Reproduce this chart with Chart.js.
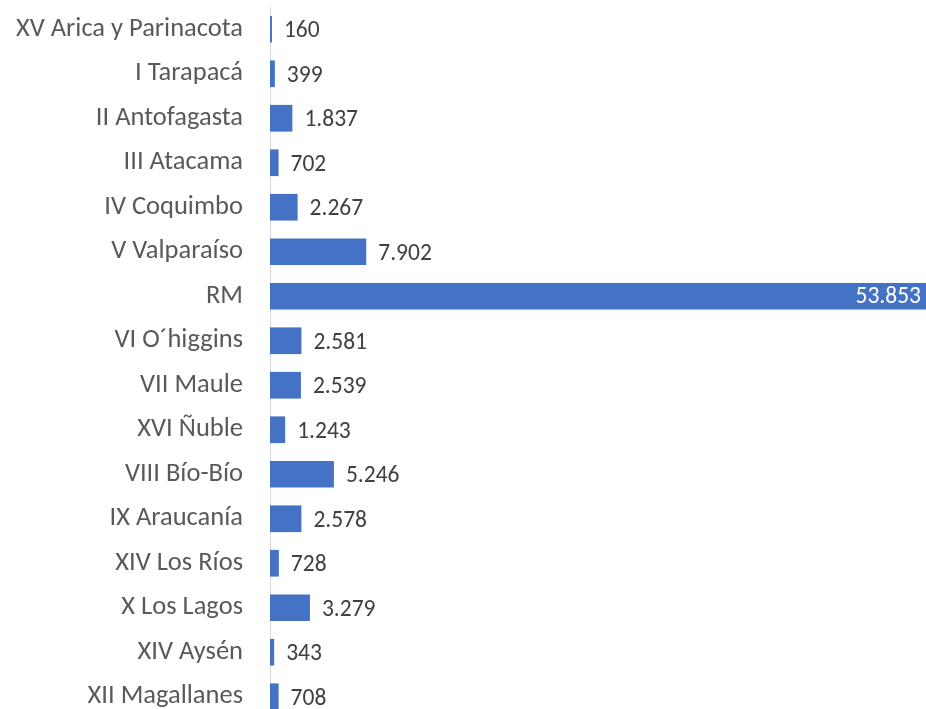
<!DOCTYPE html>
<html>
<head>
<meta charset="utf-8">
<script src="https://cdn.jsdelivr.net/npm/chart.js@4"></script>
<style>
  html, body { margin: 0; padding: 0; background: #fff; overflow: hidden; }
  canvas { display: block; }
</style>
</head>
<body>
<canvas id="regiones" width="926" height="720"></canvas>
<script>
var regiones = [
    "XV Arica y Parinacota", "I Tarapacá", "II Antofagasta", "III Atacama",
    "IV Coquimbo", "V Valparaíso", "RM", "VI O´higgins", "VII Maule",
    "XVI Ñuble", "VIII Bío-Bío", "IX Araucanía", "XIV Los Ríos",
    "X Los Lagos", "XIV Aysén", "XII Magallanes"
];
var valores = [160, 399, 1837, 702, 2267, 7902, 53853, 2581, 2539, 1243, 5246, 2578, 728, 3279, 343, 708];

var fuente = 'Calibri, Carlito, "Open Sans", sans-serif';

// numbers with a dot as thousands separator, as in the original
function formato(n) {
    return String(n).replace(/\B(?=(\d{3})+(?!\d))/g, ".");
}

var etiquetas = {
    id: 'etiquetas',
    afterDatasetsDraw: function(chart) {
        var ctx = chart.ctx;
        var meta = chart.getDatasetMeta(0);
        ctx.save();
        ctx.font = '23.5px ' + fuente;
        ctx.textBaseline = 'middle';
        meta.data.forEach(function(bar, i) {
            var txt = formato(valores[i]);
            var w = ctx.measureText(txt).width;
            if (bar.x + 12 + w > chart.chartArea.right) {
                // no room outside, put it inside the bar end
                ctx.fillStyle = '#ffffff';
                ctx.textAlign = 'right';
                ctx.fillText(txt, bar.x - 5, bar.y + 1);
            } else {
                ctx.fillStyle = '#404040';
                ctx.textAlign = 'left';
                ctx.fillText(txt, bar.x + 12, bar.y + 2);
            }
        });
        ctx.restore();
    }
};

var ctx = document.getElementById("regiones").getContext('2d');
var chart = new Chart(ctx, {
    type: 'bar',
    data: {
        labels: regiones,
        datasets: [{
            data: valores,
            backgroundColor: '#4472C4',
            borderWidth: 0,
            barPercentage: 0.6,
            categoryPercentage: 1.0
        }]
    },
    options: {
        indexAxis: 'y',
        responsive: false,
        animation: false,
        layout: { padding: { top: 7, bottom: 1, left: 0, right: 0 } },
        plugins: {
            legend: { display: false },
            tooltip: { enabled: false }
        },
        scales: {
            x: {
                display: false,
                min: 0,
                max: 53853
            },
            y: {
                afterFit: function(scale) {
                    scale.width = 270;
                    scale.paddingTop = 0;
                    scale.paddingBottom = 0;
                },
                grid: { display: true, drawOnChartArea: false, drawTicks: false, color: 'rgba(0,0,0,0)' },
                border: { display: true, color: '#d9d9d9', width: 1 },
                ticks: {
                    padding: 27,
                    color: '#595959',
                    font: { family: fuente, size: 26.5 }
                }
            }
        }
    },
    plugins: [etiquetas]
});
</script>
</body>
</html>
